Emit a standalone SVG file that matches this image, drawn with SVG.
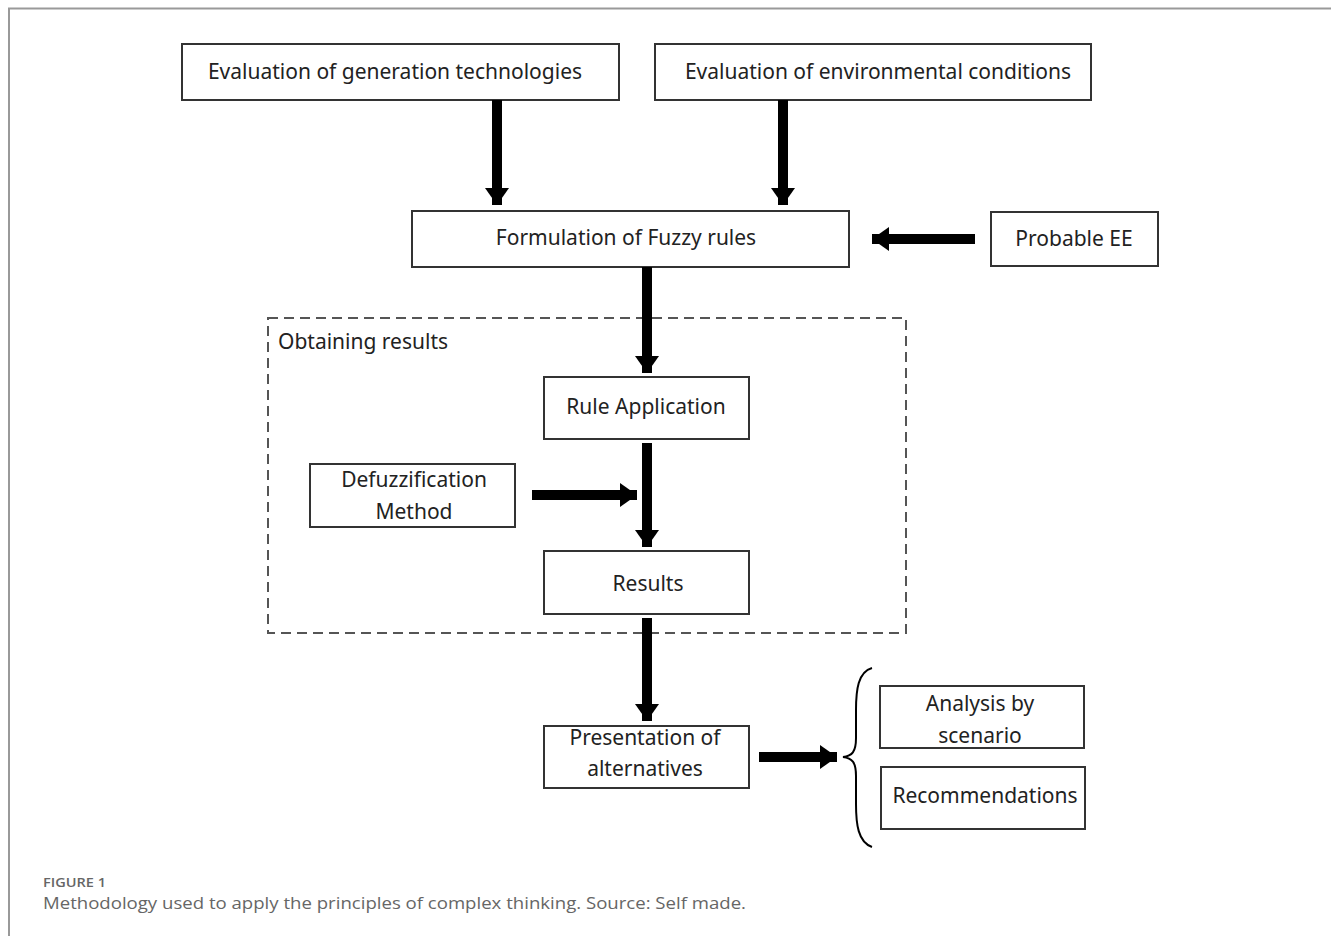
<svg xmlns="http://www.w3.org/2000/svg" width="1331" height="936" viewBox="0 0 1331 936">
<style>
.box{fill:#fff;stroke:#333;stroke-width:2}
.t{font-family:"Noto Sans","Open Sans",sans-serif;font-size:21px;fill:#222;text-anchor:middle}
.shaft{stroke:#000;stroke-width:10}
.cap1{font-family:"Open Sans",Lato,sans-serif;font-size:13px;font-weight:600;fill:#666}
.cap2{font-family:"Open Sans",Lato,sans-serif;font-size:16.5px;fill:#666}
</style>
<defs>
<marker id="ah" markerUnits="userSpaceOnUse" markerWidth="26" markerHeight="26" viewBox="0 0 17 26" refX="17" refY="13" orient="auto">
<path d="M0,1 L17,13 L0,25 Z" fill="#000"/>
</marker>
</defs>
<rect width="1331" height="936" fill="#fff"/>
<path d="M9,936 V8.5 H1331" fill="none" stroke="#999" stroke-width="2"/>

<g id="group-obtaining">
<rect x="268" y="318" width="638" height="315" fill="none" stroke="#555" stroke-width="2" stroke-dasharray="10,6"/>
<text x="278" y="349" style="font-family:'Noto Sans','Open Sans',sans-serif;font-size:21px;fill:#222">Obtaining results</text>
</g>

<g id="node-gen"><rect class="box" x="182" y="44" width="437" height="56"/><text class="t" x="395" y="79">Evaluation of generation technologies</text></g>
<g id="node-env"><rect class="box" x="655" y="44" width="436" height="56"/><text class="t" x="878" y="79">Evaluation of environmental conditions</text></g>
<g id="node-fuzzy"><rect class="box" x="412" y="211" width="437" height="56"/><text class="t" x="626" y="245">Formulation of Fuzzy rules</text></g>
<g id="node-ee"><rect class="box" x="991" y="212" width="167" height="54"/><text class="t" x="1074" y="246">Probable EE</text></g>
<g id="node-rule"><rect class="box" x="544" y="377" width="205" height="62"/><text class="t" x="646" y="414">Rule Application</text></g>
<g id="node-defuzz"><rect class="box" x="310" y="464" width="205" height="63"/><text class="t" x="414" y="487">Defuzzification</text><text class="t" x="414" y="519">Method</text></g>
<g id="node-results"><rect class="box" x="544" y="551" width="205" height="63"/><text class="t" x="648" y="591">Results</text></g>
<g id="node-present"><rect class="box" x="544" y="726" width="205" height="62"/><text class="t" x="645" y="745">Presentation of</text><text class="t" x="645" y="776">alternatives</text></g>
<g id="node-analysis"><rect class="box" x="880" y="686" width="204" height="62"/><text class="t" x="980" y="711">Analysis by</text><text class="t" x="980" y="743">scenario</text></g>
<g id="node-recom"><rect class="box" x="881" y="767" width="204" height="62"/><text class="t" x="985" y="803">Recommendations</text></g>
<g id="brace"><path d="M872,668 C858,672 856,690 856,710 L856,738 C856,752 852,756 843,757 C852,758 856,762 856,776 L856,804 C856,824 858,842 872,847" fill="none" stroke="#000" stroke-width="2"/></g>

<g id="connectors">
<line class="shaft" x1="497" y1="100" x2="497" y2="205" marker-end="url(#ah)"/>
<line class="shaft" x1="783" y1="100" x2="783" y2="205" marker-end="url(#ah)"/>
<line class="shaft" x1="975" y1="239" x2="872" y2="239" marker-end="url(#ah)"/>
<line class="shaft" x1="647" y1="267" x2="647" y2="373" marker-end="url(#ah)"/>
<line class="shaft" x1="647" y1="443" x2="647" y2="547" marker-end="url(#ah)"/>
<line class="shaft" x1="532" y1="495" x2="637" y2="495" marker-end="url(#ah)"/>
<line class="shaft" x1="647" y1="618" x2="647" y2="721" marker-end="url(#ah)"/>
<line class="shaft" x1="759" y1="757" x2="837" y2="757" marker-end="url(#ah)"/>
</g>

<text class="cap1" x="43" y="887" textLength="63" lengthAdjust="spacingAndGlyphs">FIGURE 1</text>
<text class="cap2" x="43" y="909" textLength="703" lengthAdjust="spacingAndGlyphs">Methodology used to apply the principles of complex thinking. Source: Self made.</text>
</svg>
